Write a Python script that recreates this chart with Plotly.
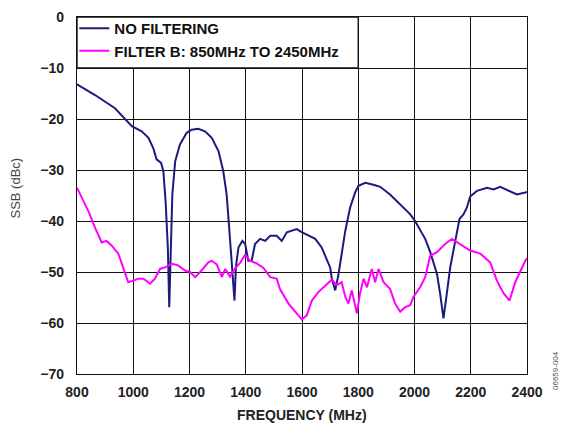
import plotly.graph_objects as go

# Data
freq_nofilter = [800, 864, 935, 971, 995, 1030, 1054, 1071, 1083, 1099, 1107, 1115, 1123, 1128, 1133,
                 1139, 1149, 1166, 1190, 1208, 1231, 1255, 1279, 1303, 1320, 1332, 1341, 1350, 1360,
                 1365, 1374, 1388, 1398, 1409, 1421, 1433, 1451, 1469, 1487, 1510, 1528, 1546, 1564,
                 1581, 1599, 1623, 1647, 1670, 1688, 1700, 1706, 1718, 1729, 1741, 1754, 1771, 1789,
                 1801, 1825, 1854, 1878, 1913, 1949, 1985, 2002, 2020, 2038, 2056, 2074, 2080, 2091,
                 2103, 2115, 2127, 2145, 2160, 2174, 2186, 2198, 2222, 2258, 2281, 2305, 2340, 2364,
                 2394, 2400]
ssb_nofilter = [-13.2, -15.3, -17.9, -20.1, -21.4, -22.4, -23.7, -25.7, -27.9, -28.6, -30.2, -36.1,
                -45.2, -56.9, -45.5, -34.8, -28.3, -25.0, -22.7, -22.1, -21.9, -22.4, -23.7, -26.3,
                -30.2, -34.8, -41.3, -49.1, -55.6, -49.0, -45.2, -43.9, -44.5, -47.8, -47.8, -44.5,
                -43.5, -43.9, -42.9, -42.9, -43.9, -42.2, -41.9, -41.6, -42.2, -42.9, -43.5, -45.2,
                -47.4, -49.1, -51.3, -53.6, -50.7, -46.4, -41.9, -37.4, -34.4, -33.1, -32.5, -32.9,
                -33.3, -34.8, -36.7, -38.7, -40.0, -41.9, -43.5, -46.1, -49.1, -50.4, -54.2, -59.1,
                -54.2, -49.1, -43.9, -39.6, -38.7, -37.4, -35.2, -34.1, -33.5, -33.8, -33.3, -34.1,
                -34.8, -34.4, -34.3]

freq_filterb = [800, 840, 864, 888, 905, 923, 947, 965, 982, 1000, 1018, 1036, 1060, 1077, 1095, 1113,
                1137, 1160, 1184, 1202, 1220, 1238, 1267, 1279, 1297, 1315, 1327, 1344, 1362, 1380,
                1398, 1415, 1439, 1463, 1487, 1510, 1522, 1552, 1576, 1599, 1617, 1635, 1659, 1682,
                1706, 1724, 1741, 1754, 1765, 1777, 1795, 1807, 1819, 1831, 1848, 1860, 1872, 1890,
                1913, 1931, 1949, 1967, 1985, 1996, 2020, 2038, 2056, 2080, 2109, 2133, 2163, 2198,
                2234, 2269, 2293, 2317, 2338, 2358, 2394, 2400]
ssb_filterb = [-33.5, -38.0, -41.3, -44.2, -43.9, -44.8, -46.4, -49.1, -52.0, -51.7, -51.3, -51.3,
               -52.3, -51.3, -49.4, -49.1, -48.4, -48.7, -49.7, -50.0, -51.0, -50.0, -48.1, -47.8,
               -48.5, -51.0, -49.4, -50.9, -49.3, -48.2, -46.6, -47.8, -48.3, -49.2, -51.0, -51.3,
               -53.4, -56.2, -57.8, -59.3, -58.5, -55.6, -53.9, -52.8, -51.5, -52.6, -52.0, -54.9,
               -56.2, -53.6, -58.1, -54.0, -51.3, -53.0, -49.4, -52.0, -49.4, -52.0, -53.3, -56.2,
               -57.8, -56.9, -56.5, -54.9, -53.0, -51.0, -46.8, -46.1, -44.5, -43.5, -44.5, -45.8,
               -46.4, -48.1, -51.7, -54.2, -55.6, -52.0, -47.8, -47.3]

x_ticks = [800, 1000, 1200, 1400, 1600, 1800, 2000, 2200, 2400]
y_ticks = [0, -10, -20, -30, -40, -50, -60, -70]

FONT = "Liberation Sans, Arial, sans-serif"

fig = go.Figure()
fig.add_trace(go.Scatter(x=freq_nofilter, y=ssb_nofilter, mode="lines", name="NO FILTERING",
                         line=dict(color="#1b1b7d", width=2)))
fig.add_trace(go.Scatter(x=freq_filterb, y=ssb_filterb, mode="lines",
                         name="FILTER B: 850MHz TO 2450MHz",
                         line=dict(color="#ff00ff", width=2)))

# legend box (covers gridlines)
fig.add_shape(type="rect", xref="x", yref="y", x0=800, x1=1800, y0=-10, y1=0,
              fillcolor="white", line=dict(color="#111", width=1.4), layer="between")

fig.update_layout(
    width=569, height=427, autosize=False,
    margin=dict(l=77, r=42, t=15, b=53),
    paper_bgcolor="white", plot_bgcolor="white",
    font=dict(family=FONT, color="#111"),
    showlegend=True,
    legend=dict(x=-0.006, y=1.014, xanchor="left", yanchor="top",
                bgcolor="rgba(0,0,0,0)", borderwidth=0,
                font=dict(family=FONT, size=15, color="#111", weight="bold"),
                tracegroupgap=0, itemwidth=30),
    xaxis=dict(range=[800, 2400], tickvals=x_ticks, ticktext=[str(v) for v in x_ticks],
               showgrid=True, gridcolor="#111", gridwidth=1.4, automargin=False,
               showline=True, linecolor="#111", linewidth=1.4, mirror=True, zeroline=False,
               ticks="", ticklabelstandoff=5,
               tickfont=dict(family=FONT, size=14, color="#222", weight="bold")),
    yaxis=dict(range=[-70, 0], tickvals=y_ticks,
               ticktext=["0" if v == 0 else "\u2212" + str(-v) for v in y_ticks],
               showgrid=True, gridcolor="#111", gridwidth=1.4, automargin=False,
               showline=True, linecolor="#111", linewidth=1.4, mirror=True, zeroline=False,
               ticks="", ticklabelstandoff=9,
               tickfont=dict(family=FONT, size=14, color="#222", weight="bold")),
)

fig.add_annotation(text="FREQUENCY (MHz)", xref="paper", yref="paper", x=0.5, y=0,
                   yshift=-41, yanchor="middle", showarrow=False,
                   font=dict(family=FONT, size=14, color="#222", weight="bold"))
fig.add_annotation(text="SSB (dBc)", xref="paper", yref="paper", x=0, y=0.5,
                   xshift=-62, yshift=7, xanchor="center", yanchor="middle",
                   showarrow=False, textangle=-90,
                   font=dict(family=FONT, size=13, color="#444"))
fig.add_annotation(text="06659-004", xref="paper", yref="paper", x=1.0, y=0,
                   xshift=35, yshift=-18, showarrow=False, textangle=-90,
                   font=dict(family=FONT, size=8, color="#555"))

fig.write_html("out.html", config={"displayModeBar": False},
               post_script="document.body.style.margin='0';")
